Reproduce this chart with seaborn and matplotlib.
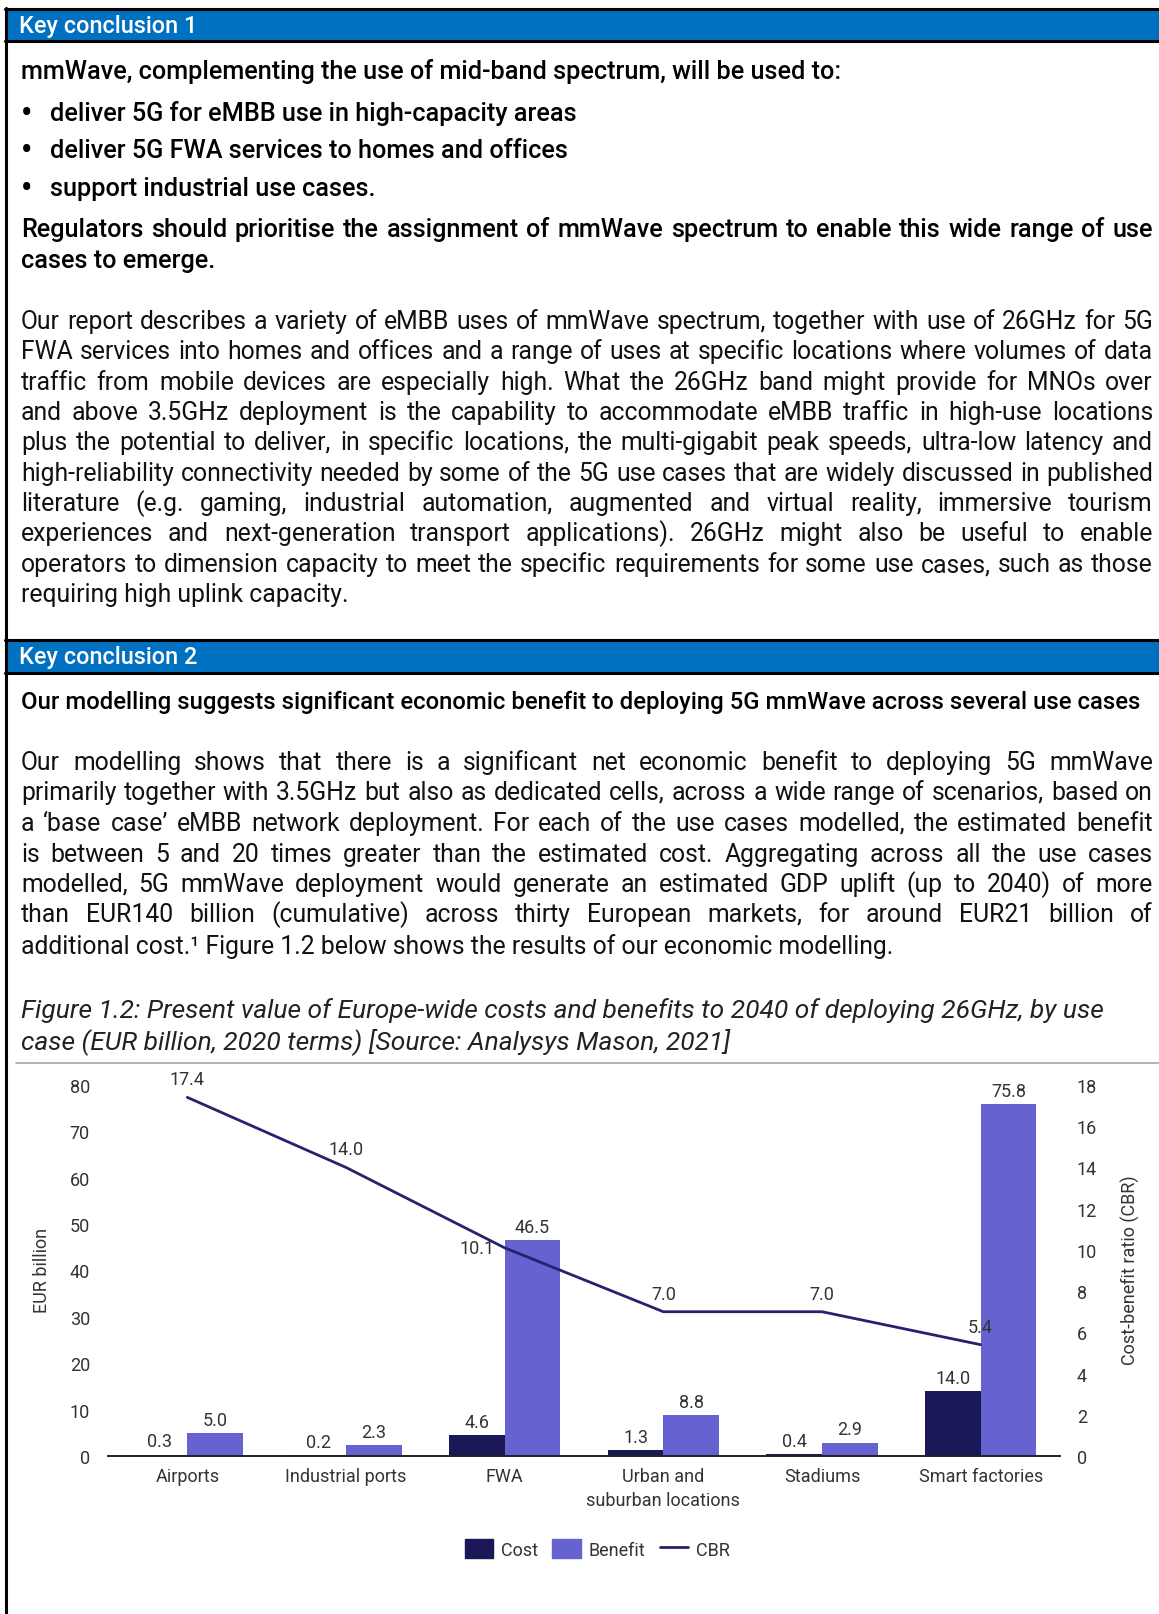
import numpy as np
import pandas as pd
import seaborn as sns
import matplotlib
matplotlib.use('Agg')
import matplotlib.pyplot as plt
from matplotlib.lines import Line2D
from matplotlib.patches import Patch, Rectangle

W, H, DPI = 1159, 1615, 100

# chart data
use_cases = ['Airports', 'Industrial ports', 'FWA', 'Urban and\nsuburban locations',
             'Stadiums', 'Smart factories']
cost = [0.3, 0.2, 4.6, 1.3, 0.4, 14.0]
benefit = [5.0, 2.3, 46.5, 8.8, 2.9, 75.8]
cbr = [17.4, 14.0, 10.1, 7.0, 7.0, 5.4]
left_ticks = list(range(0, 81, 10))
right_ticks = list(range(0, 19, 2))

# page text
intro = 'mmWave, complementing the use of mid-band spectrum, will be used to:'
bullets = ['deliver 5G for eMBB use in high-capacity areas',
           'deliver 5G FWA services to homes and offices',
           'support industrial use cases.']
regulators = ['Regulators should prioritise the assignment of mmWave spectrum to enable this wide range of use',
              'cases to emerge.']
para1 = [
    'Our report describes a variety of eMBB uses of mmWave spectrum, together with use of 26GHz for 5G',
    'FWA services into homes and offices and a range of uses at specific locations where volumes of data',
    'traffic from mobile devices are especially high. What the 26GHz band might provide for MNOs over',
    'and above 3.5GHz deployment is the capability to accommodate eMBB traffic in high-use locations',
    'plus the potential to deliver, in specific locations, the multi-gigabit peak speeds, ultra-low latency and',
    'high-reliability connectivity needed by some of the 5G use cases that are widely discussed in published',
    'literature (e.g. gaming, industrial automation, augmented and virtual reality, immersive tourism',
    'experiences and next-generation transport applications). 26GHz might also be useful to enable',
    'operators to dimension capacity to meet the specific requirements for some use cases, such as those',
    'requiring high uplink capacity.',
]
headline2 = 'Our modelling suggests significant economic benefit to deploying 5G mmWave across several use cases'
para2 = [
    'Our modelling shows that there is a significant net economic benefit to deploying 5G mmWave',
    'primarily together with 3.5GHz but also as dedicated cells, across a wide range of scenarios, based on',
    'a \u2018base case\u2019 eMBB network deployment. For each of the use cases modelled, the estimated benefit',
    'is between 5 and 20 times greater than the estimated cost. Aggregating across all the use cases',
    'modelled, 5G mmWave deployment would generate an estimated GDP uplift (up to 2040) of more',
    'than EUR140 billion (cumulative) across thirty European markets, for around EUR21 billion of',
    'additional cost.\u00b9 Figure 1.2 below shows the results of our economic modelling.',
]
caption = ['Figure 1.2: Present value of Europe-wide costs and benefits to 2040 of deploying 26GHz, by use',
           'case (EUR billion, 2020 terms) [Source: Analysys Mason, 2021]']

BLUE = '#0070C0'
COST_C = '#1B1858'
BEN_C = '#6662CF'
LINE_C = '#25236E'
TXT = '#111111'
GREY_TXT = '#333333'

sns.set_theme(style='white')
plt.rcParams['font.family'] = ['Roboto', 'DejaVu Sans']

fig = plt.figure(figsize=(W / DPI, H / DPI), dpi=DPI)
fig.patch.set_facecolor('white')
renderer = fig.canvas.get_renderer()


def fx(x):
    return x / W


def fy(y):
    return 1 - y / H


def width_px(s, size, **kw):
    t = fig.text(0, 0, s, fontsize=size, **kw)
    w = t.get_window_extent(renderer).width
    t.remove()
    return w


def fit(s, target, **kw):
    return 10 * target / width_px(s, 10, **kw)


def put(s, x, y, size, ha='left', **kw):
    fig.text(fx(x), fy(y), s, fontsize=size, va='center', ha=ha, **kw)


def justify(s, x0, x1, y, size, **kw):
    words = s.split()
    ws = [width_px(w_, size, **kw) for w_ in words]
    gap = (x1 - x0 - sum(ws)) / (len(words) - 1)
    x = x0
    for w_, wd in zip(words, ws):
        put(w_, x, y, size, **kw)
        x += wd + gap


def paragraph(lines, ys, size, x0=21, x1=1153, **kw):
    for i, (s, y) in enumerate(zip(lines, ys)):
        if i < len(lines) - 1:
            justify(s, x0, x1, y, size, **kw)
        else:
            put(s, x0, y, size, **kw)


# frame and blue headers
for y in [10, 42, 641, 674]:
    fig.add_artist(Line2D([fx(5), 1], [fy(y), fy(y)], color='black', lw=2.2))
fig.add_artist(Line2D([fx(6), fx(6)], [fy(9), 0], color='black', lw=2.2))
for y0, y1 in [(11, 41), (643, 673)]:
    fig.add_artist(Rectangle((fx(7), fy(y1)), 1 - fx(7), (y1 - y0) / H,
                             transform=fig.transFigure, color=BLUE, lw=0))
hsize = fit('Key conclusion 1', 178, fontweight='medium')
put('Key conclusion 1', 19, 26, hsize, color='white', fontweight='medium')
put('Key conclusion 2', 19, 658, hsize, color='white', fontweight='medium')

# box 1
bold = dict(fontweight='medium', color='black')
bsize = fit(intro, 818, **bold)
put(intro, 21, 71, bsize, **bold)
for s, y in zip(bullets, [114, 151, 189]):
    put('\u2022', 27, y, bsize * 1.3, ha='center', **bold)
    put(s, 50, y, bsize, **bold)
rsize = min(bsize, fit(regulators[0], 1120, **bold))
paragraph(regulators, [230, 261], rsize, **bold)

body = dict(color=TXT)
body_size = min(fit(para1[-1], 334, **body), fit(para1[5], 1125, **body),
                fit(para2[1], 1125, **body))
paragraph(para1, [322, 352, 383, 413, 443, 474, 504, 534, 565, 595], body_size, **body)

# box 2
put(headline2, 21, 702, fit(headline2, 1115, **bold), **bold)
paragraph(para2, [763, 793, 824, 855, 885, 915, 947], body_size, **body)

cap = dict(fontstyle='italic', color='#222222')
csize = fit(caption[0], 1080, **cap)
for s, y in zip(caption, [1011, 1042]):
    put(s, 21, y, csize, **cap)
fig.add_artist(Line2D([fx(16), 1], [fy(1064), fy(1064)], color='#a6a6a6', lw=1.2))

# chart
FS = 13
ax = fig.add_axes([fx(108), fy(1457), (1060 - 108) / W, (1457 - 1086) / H])
df = pd.DataFrame({'use_case': use_cases * 2,
                   'series': ['Cost'] * len(cost) + ['Benefit'] * len(benefit),
                   'value': cost + benefit})
sns.barplot(data=df, x='use_case', y='value', hue='series', palette=[COST_C, BEN_C],
            width=0.7, saturation=1, linewidth=0, ax=ax, legend=False)
for c in ax.containers:
    ax.bar_label(c, fmt='%.1f', padding=3, fontsize=FS, color=GREY_TXT)

ax2 = ax.twinx()
sns.lineplot(x=np.arange(len(cbr)), y=cbr, ax=ax2, color=LINE_C, linewidth=2)
for i, v in enumerate(cbr):
    if i == 2:
        ax2.annotate(f'{v:.1f}', (i, v), xytext=(-7, 0), textcoords='offset points',
                     ha='right', va='center', fontsize=FS, color=GREY_TXT)
    else:
        ax2.annotate(f'{v:.1f}', (i, v), xytext=(0, 13), textcoords='offset points',
                     ha='center', va='center', fontsize=FS, color=GREY_TXT)

ax.set_xlim(-0.5, len(use_cases) - 0.5)
ax.set_ylim(0, 80)
ax2.set_ylim(0, 18)
ax.set_yticks(left_ticks)
ax2.set_yticks(right_ticks)
ax.set_xlabel('')
ax.set_ylabel('')
ax2.set_ylabel('')
ax.tick_params(axis='x', length=0, pad=8, labelsize=FS, labelcolor=GREY_TXT)
ax.tick_params(axis='y', length=0, pad=13, labelsize=FS, labelcolor=GREY_TXT)
ax2.tick_params(axis='y', length=0, pad=12, labelsize=FS, labelcolor=GREY_TXT)
for lab in ax.get_xticklabels():
    lab.set_linespacing(1.4)
for side in ['left', 'right', 'top']:
    ax.spines[side].set_visible(False)
for side in ['left', 'right', 'top', 'bottom']:
    ax2.spines[side].set_visible(False)
ax.spines['bottom'].set_color('#222222')
ax.spines['bottom'].set_linewidth(1.4)
ax.grid(False)
ax2.grid(False)

fig.text(fx(42), fy(1270), 'EUR billion', rotation=90, ha='center', va='center',
         fontsize=FS, color=GREY_TXT)
fig.text(fx(1130), fy(1270), 'Cost-benefit ratio (CBR)', rotation=90, ha='center',
         va='center', fontsize=FS, color=GREY_TXT)

handles = [Patch(color=COST_C, label='Cost'), Patch(color=BEN_C, label='Benefit'),
           Line2D([], [], color=LINE_C, lw=2, label='CBR')]
leg = fig.legend(handles=handles, loc='center', bbox_to_anchor=(fx(597), fy(1550)), ncol=3,
                 frameon=False, fontsize=FS, handlelength=1.6, handleheight=1.2,
                 columnspacing=0.8, handletextpad=0.4)
for t in leg.get_texts():
    t.set_color(GREY_TXT)

fig.savefig('out.png', dpi=DPI, facecolor='white')
